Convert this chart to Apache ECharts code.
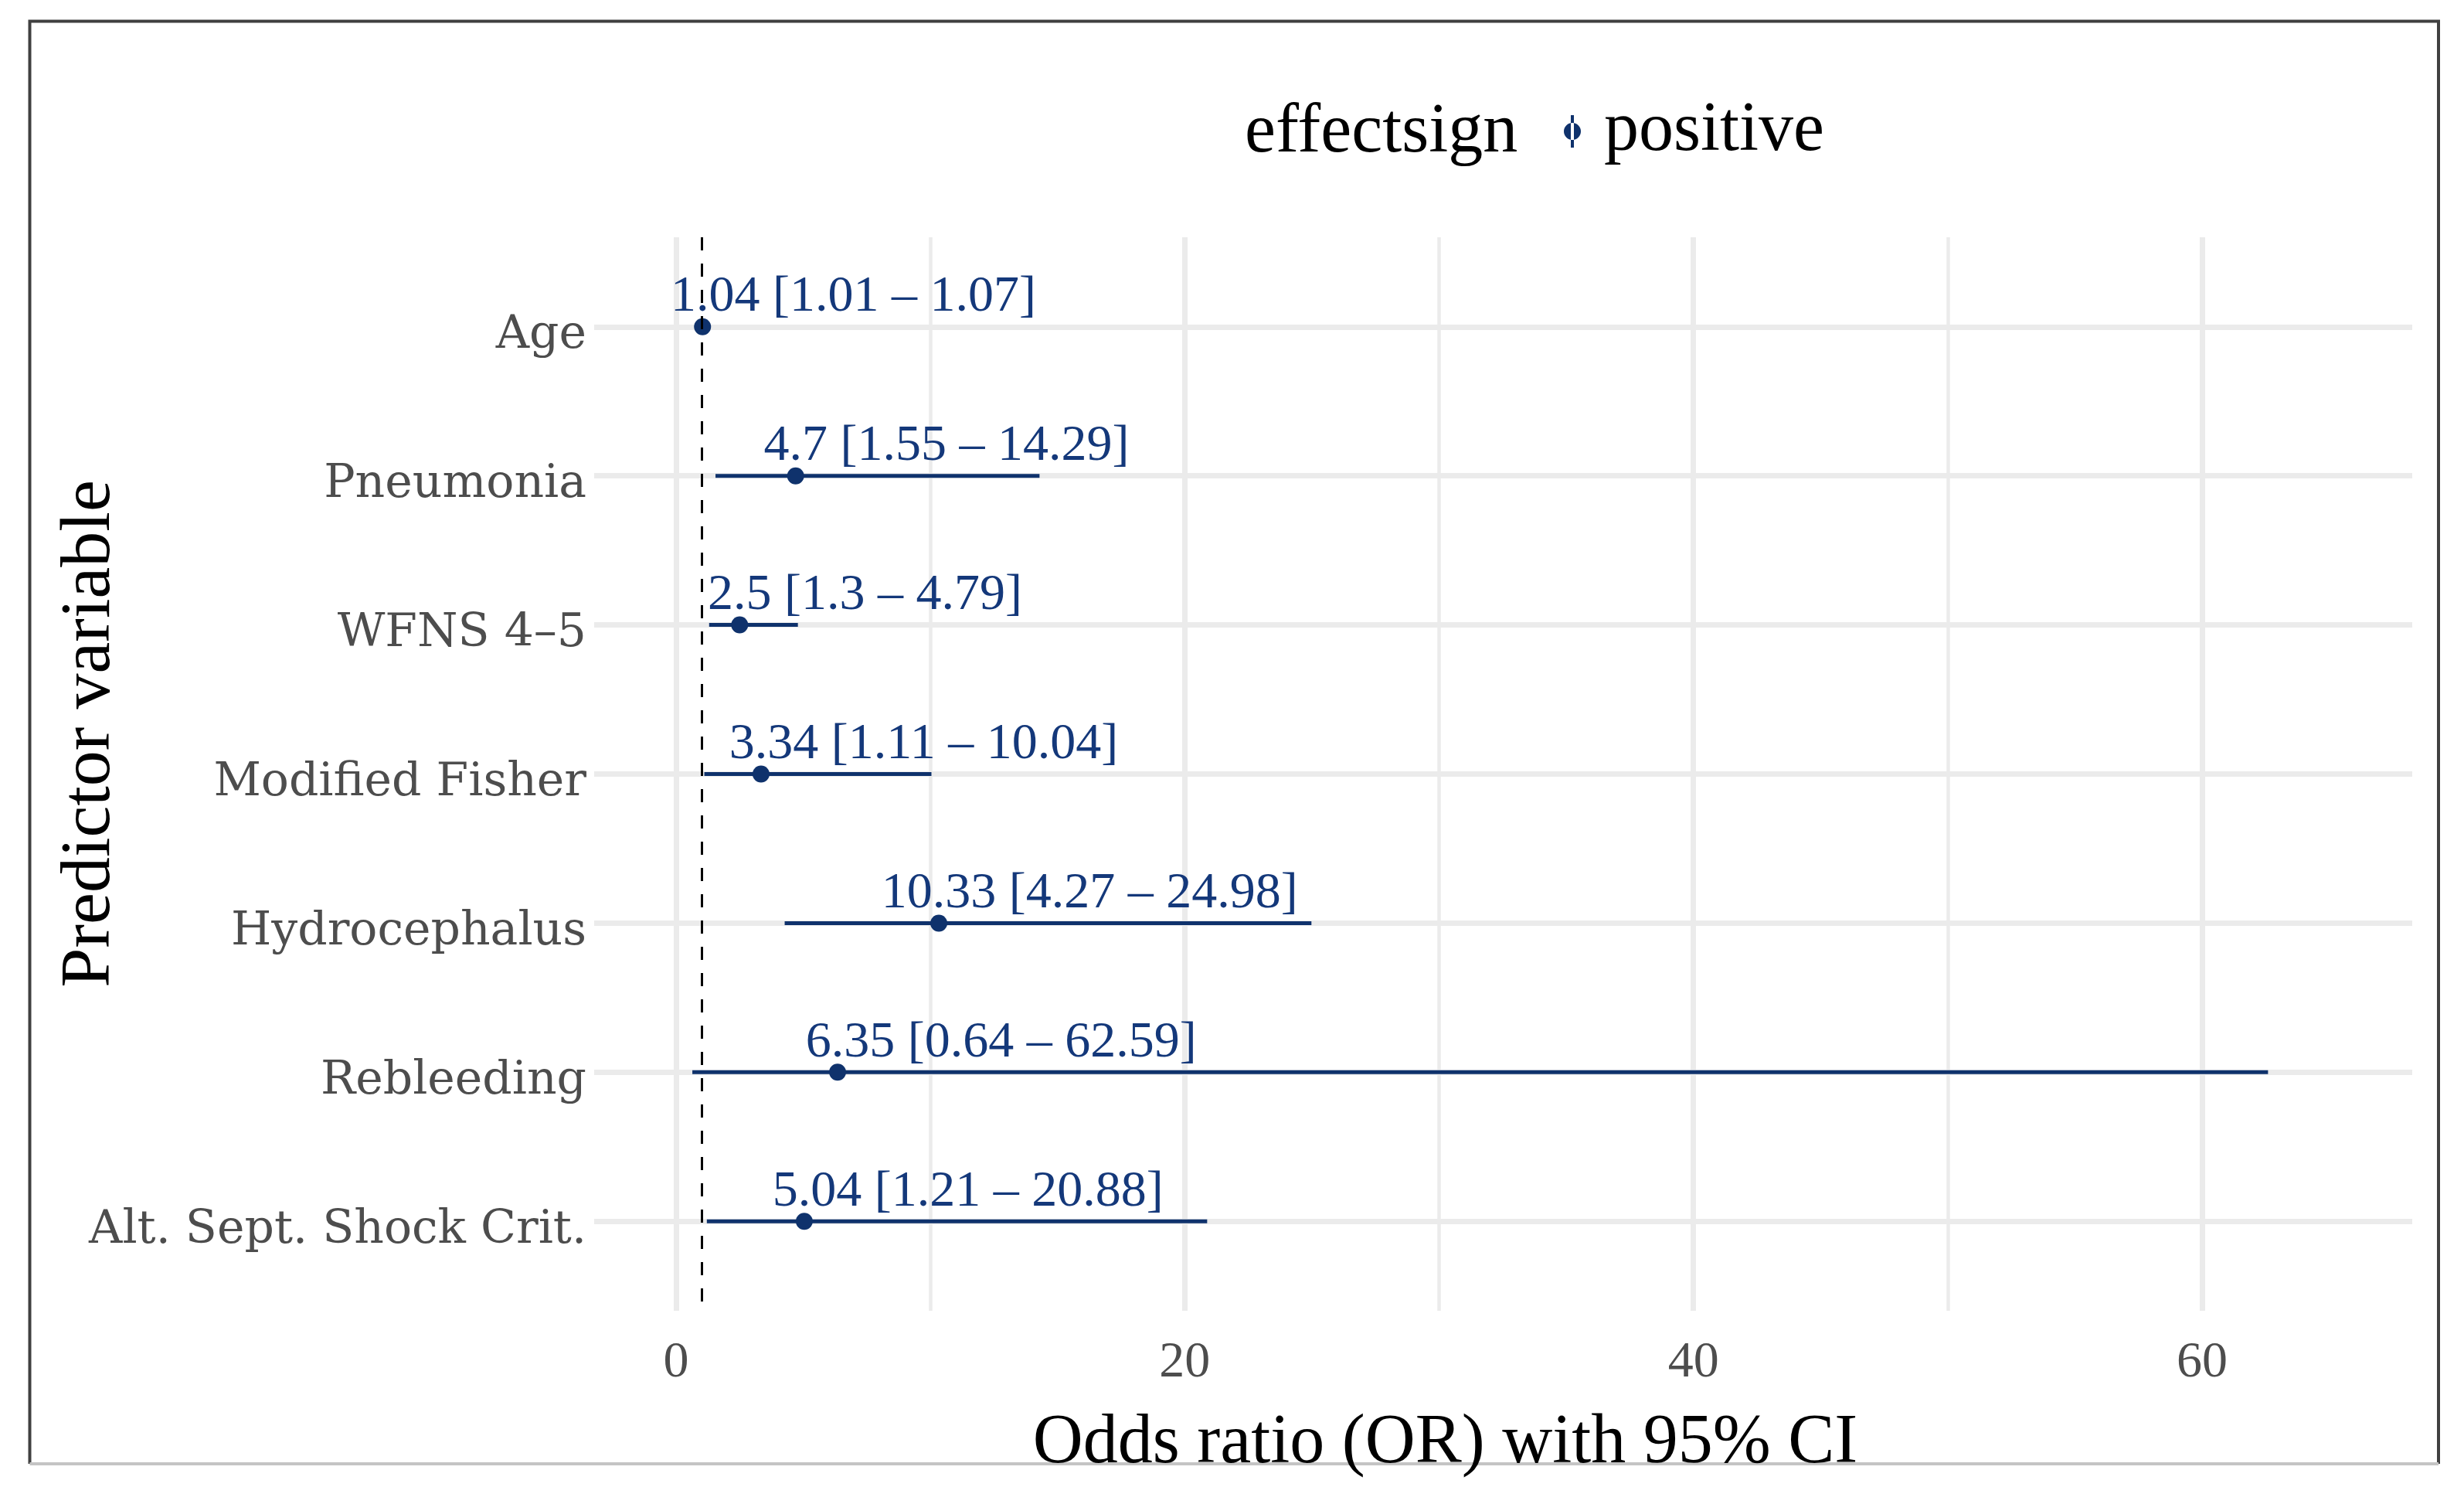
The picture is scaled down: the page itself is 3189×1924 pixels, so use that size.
<!DOCTYPE html>
<html>
<head>
<meta charset="utf-8">
<script src="https://cdn.jsdelivr.net/npm/echarts@6/dist/echarts.min.js"></script>
<style>
html,body{margin:0;padding:0;background:#fff;}
#chart{width:3189px;height:1924px;}
</style>
</head>
<body>
<div id="chart"></div>
<script>
// ---- data ----
const categories = ["Age", "Pneumonia", "WFNS 4\u20135", "Modified Fisher", "Hydrocephalus", "Rebleeding", "Alt. Sept. Shock Crit."];
const oddsRatio = [1.04, 4.7, 2.5, 3.34, 10.33, 6.35, 5.04];
const ciLower = [1.01, 1.55, 1.3, 1.11, 4.27, 0.64, 1.21];
const ciUpper = [1.07, 14.29, 4.79, 10.04, 24.98, 62.59, 20.88];
const xMajorTicks = [0, 20, 40, 60];
const xMinorTicks = [10, 30, 50];
const referenceLine = 1;
const legendTitle = "effectsign";
const seriesName = "positive";
const xTitle = "Odds ratio (OR) with 95% CI";
const yTitle = "Predictor variable";

// ---- style ----
const NAVY = "#0f326c";
const LABEL_NAVY = "#14387a";
const GRID = "#ebebeb";
const SERIF = '"Liberation Serif", "Times New Roman", serif';
const WIDE_SERIF = '"DejaVu Serif", serif';
const LABEL_SIZE = 66;

const rowIdx = categories.map((_, i) => i);
const labelText = rowIdx.map(i => oddsRatio[i] + " [" + ciLower[i] + " \u2013 " + ciUpper[i] + "]");

// measure text so that the decimal point of the estimate sits on the point
const cv = document.createElement("canvas").getContext("2d");
cv.font = LABEL_SIZE + "px " + SERIF;
function labelShift(i) {
  const s = String(oddsRatio[i]);
  const p = s.indexOf(".");
  const intPart = p >= 0 ? s.slice(0, p) : s;
  return -(cv.measureText(intPart).width + cv.measureText(".").width / 2);
}

const chart = echarts.init(document.getElementById("chart"), null, {renderer: "canvas"});

const option = {
  animation: false,
  backgroundColor: "#ffffff",
  grid: {left: 769, right: 67, top: 307, bottom: 228, containLabel: false, outerBoundsMode: "none"},
  legend: {
    data: [seriesName],
    left: 2019,
    top: 106,
    itemWidth: 22,
    itemHeight: 42,
    icon: "path://M9,0 H13 V42 H9 Z M0,21 A11,11 0 1,0 22,21 A11,11 0 1,0 0,21 Z",
    itemStyle: {color: NAVY, opacity: 1},
    textStyle: {fontFamily: SERIF, fontSize: 90, color: "#000", lineHeight: 90, padding: [28, 0, 0, 25]},
    selectedMode: false
  },
  graphic: [
    {type: "text", left: 1611, top: 169 - 42, style: {text: legendTitle, font: "90px " + SERIF, fill: "#000"}},
    {type: "polyline", silent: true, shape: {points: [[38.5, 1894], [38.5, 27.5], [3156, 27.5], [3156, 1894]]}, style: {stroke: "#404040", lineWidth: 4, fill: null}},
    {type: "line", silent: true, shape: {x1: 38.5, y1: 1894, x2: 3156, y2: 1894}, style: {stroke: "#c4c4c4", lineWidth: 4}}
  ],
  xAxis: [
    {
      type: "value", min: -3.22, max: 68.26,
      name: xTitle, nameLocation: "middle", nameGap: 127, nameMoveOverlap: false,
      nameTextStyle: {fontFamily: SERIF, fontSize: 90, color: "#000", padding: [0, 150, 0, 0]},
      axisLine: {show: false},
      axisTick: {show: false, customValues: xMajorTicks},
      axisLabel: {customValues: xMajorTicks, margin: 35, fontFamily: SERIF, fontSize: 66, color: "#4d4d4d"},
      splitLine: {show: true, lineStyle: {color: GRID, width: 7}}
    },
    {
      type: "value", min: -3.22, max: 68.26, position: "bottom",
      axisLine: {show: false},
      axisTick: {show: false, customValues: xMinorTicks},
      axisLabel: {show: false, customValues: xMinorTicks},
      splitLine: {show: true, lineStyle: {color: GRID, width: 4.5}}
    }
  ],
  yAxis: {
    type: "value", inverse: true, min: -0.6, max: categories.length - 0.4,
    name: yTitle, nameLocation: "middle", nameGap: 606, nameMoveOverlap: false,
    nameTextStyle: {fontFamily: SERIF, fontSize: 92, color: "#000", padding: [0, 0, 0, 104]},
    axisLine: {show: false},
    axisTick: {show: false, customValues: rowIdx},
    axisLabel: {
      customValues: rowIdx, margin: 10,
      fontFamily: WIDE_SERIF, fontSize: 60, color: "#4d4d4d",
      verticalAlign: "top", lineHeight: 24,
      formatter: v => categories[Math.round(v)]
    },
    splitLine: {show: true, lineStyle: {color: GRID, width: 7}}
  },
  series: [
    {
      type: "custom",
      name: "ci",
      xAxisIndex: 0,
      data: rowIdx.map(i => [ciLower[i], ciUpper[i], i]),
      encode: {x: [0, 1], y: 2},
      renderItem: (params, api) => {
        const a = api.coord([api.value(0), api.value(2)]);
        const b = api.coord([api.value(1), api.value(2)]);
        return {type: "line", shape: {x1: a[0], y1: a[1], x2: b[0], y2: b[1]}, style: {stroke: NAVY, lineWidth: 5}};
      },
      silent: true,
      z: 3
    },
    {
      type: "scatter",
      name: seriesName,
      xAxisIndex: 0,
      symbol: "circle",
      symbolSize: 22,
      itemStyle: {color: NAVY, opacity: 1},
      z: 4,
      data: rowIdx.map(i => ({
        value: [oddsRatio[i], i],
        label: {
          show: true,
          position: ["50%", "50%"],
          align: "left",
          verticalAlign: "middle",
          offset: [labelShift(i), -38],
          formatter: () => labelText[i],
          fontFamily: SERIF,
          fontSize: LABEL_SIZE,
          color: LABEL_NAVY
        }
      })),
      markLine: {
        silent: true,
        symbol: "none",
        label: {show: false},
        lineStyle: {color: "#000", type: [17, 17], width: 3},
        data: [{xAxis: referenceLine}]
      }
    }
  ]
};
chart.setOption(option);
</script>
</body>
</html>
